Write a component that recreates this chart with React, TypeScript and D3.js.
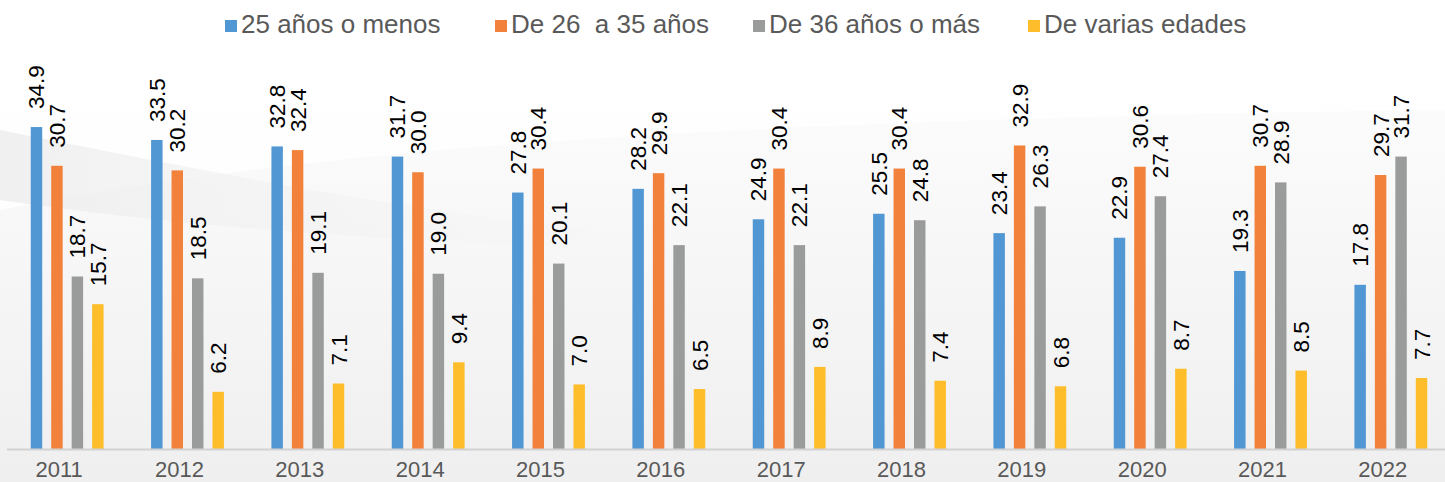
import React from 'react'
import * as d3 from 'd3'

const width = 1445
const height = 482

const years = ['2011', '2012', '2013', '2014', '2015', '2016', '2017', '2018', '2019', '2020', '2021', '2022']
const seriesNames = ['25 años o menos', 'De 26  a 35 años', 'De 36 años o más', 'De varias edades']
const colors = ['#5097d4', '#f2813b', '#9a9c9c', '#febe2b']

const upTo25 = [34.9, 33.5, 32.8, 31.7, 27.8, 28.2, 24.9, 25.5, 23.4, 22.9, 19.3, 17.8]
const from26to35 = [30.7, 30.2, 32.4, 30.0, 30.4, 29.9, 30.4, 30.4, 32.9, 30.6, 30.7, 29.7]
const over36 = [18.7, 18.5, 19.1, 19.0, 20.1, 22.1, 22.1, 24.8, 26.3, 27.4, 28.9, 31.7]
const mixedAges = [15.7, 6.2, 7.1, 9.4, 7.0, 6.5, 8.9, 7.4, 6.8, 8.7, 8.5, 7.7]

const series = [upTo25, from26to35, over36, mixedAges]

// legend x positions (square left edge)
const legendX = [225, 495, 753, 1028]

const font = '"Liberation Sans", Arial, Helvetica, sans-serif'

const App = () => {
  const x0 = d3.scaleBand().domain(years).range([7, 1451]).paddingInner(0.32).paddingOuter(0.16)
  const x1 = d3.scaleBand().domain(seriesNames).range([0, x0.bandwidth()]).paddingInner(0.44).paddingOuter(0.22)
  const y = d3.scaleLinear().domain([0, 40]).range([449, 80])
  const fmt = d3.format('.1f')

  return (
    <svg width={width} height={height} style={{ display: 'block', position: 'absolute', left: 0, top: 0 }}>
      <defs>
        <linearGradient id="bg" x1="0" y1="0" x2="0" y2="1">
          <stop offset="0" stopColor="#ffffff" />
          <stop offset="0.45" stopColor="#f8f8f8" />
          <stop offset="1" stopColor="#efefef" />
        </linearGradient>
        <linearGradient id="arc" x1="0" y1="0" x2="1" y2="0">
          <stop offset="0" stopColor="#ececec" stopOpacity="0.8" />
          <stop offset="1" stopColor="#f4f4f4" stopOpacity="0" />
        </linearGradient>
      </defs>
      <rect x={0} y={0} width={width} height={height} fill="url(#bg)" />
      <path d="M0,210 C300,150 700,120 1445,110 L1445,0 L0,0 Z" fill="#ffffff" opacity={0.8} />
      <path d="M0,130 C250,180 450,220 700,240 L700,250 C450,245 200,230 0,200 Z" fill="url(#arc)" />

      {/* legend */}
      {seriesNames.map((name, i) => (
        <g key={name}>
          <rect x={legendX[i]} y={20} width={12} height={12} fill={colors[i]} />
          <text x={legendX[i] + 16} y={33} fontFamily={font} fontSize={26} fill="#595959" style={{ whiteSpace: 'pre' }}>
            {name}
          </text>
        </g>
      ))}

      {/* bars */}
      {years.map((yr, j) => (
        <g key={yr} transform={`translate(${x0(yr)},0)`}>
          {series.map((vals, i) => {
            const bx = x1(seriesNames[i])!
            const top = y(vals[j])
            const cx = bx + x1.bandwidth() / 2
            return (
              <g key={i}>
                <rect x={bx} y={top} width={x1.bandwidth()} height={y(0) - top} fill={colors[i]} />
                <text
                  transform={`translate(${cx + 8},${top - 18}) rotate(-90)`}
                  fontFamily={font}
                  fontSize={22.5}
                  fill="#000000"
                >
                  {fmt(vals[j])}
                </text>
              </g>
            )
          })}
        </g>
      ))}

      {/* axis */}
      <line x1={7} x2={width} y1={449.5} y2={449.5} stroke="#d2d2d2" strokeWidth={2} />
      {years.map(yr => (
        <text
          key={yr}
          x={x0(yr)! + x0.bandwidth() / 2 - 8}
          y={477}
          textAnchor="middle"
          fontFamily={font}
          fontSize={22}
          fill="#595959"
        >
          {yr}
        </text>
      ))}
    </svg>
  )
}

export default App
